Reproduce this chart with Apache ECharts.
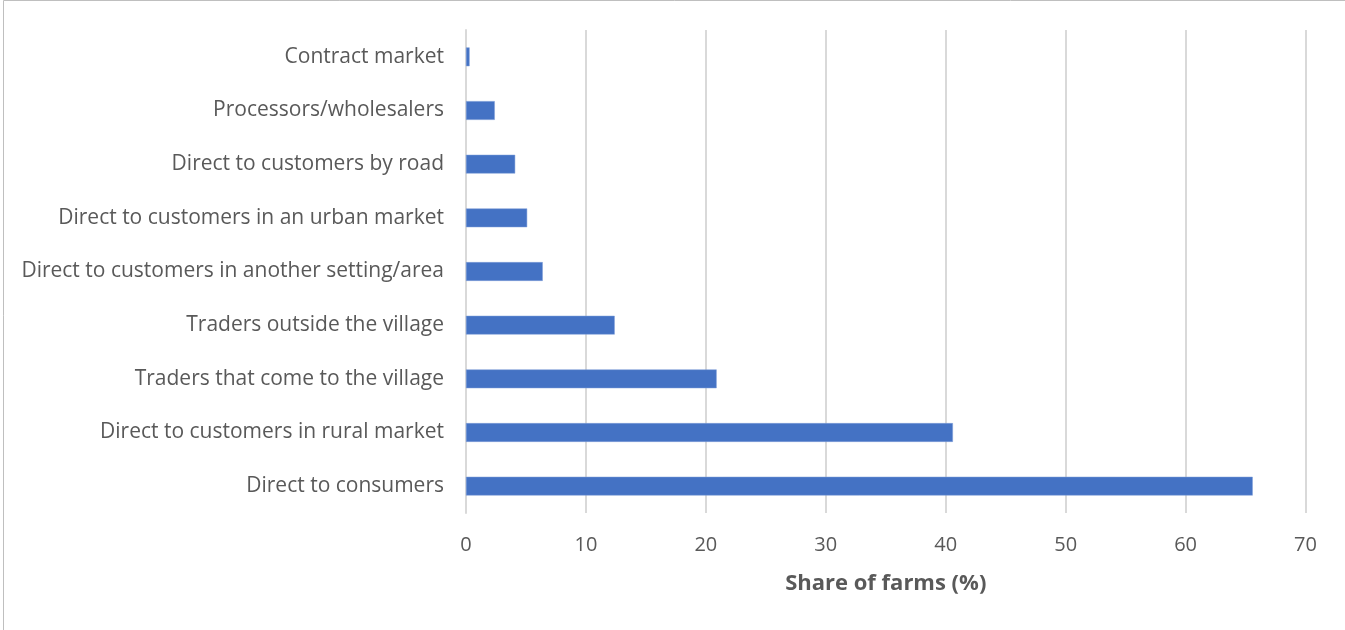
<!DOCTYPE html>
<html>
<head>
<meta charset="utf-8">
<script src="https://cdn.jsdelivr.net/npm/echarts@6/dist/echarts.min.js"></script>
<style>
  html, body { margin: 0; padding: 0; background: #ffffff; }
  #chart { width: 1345px; height: 630px; }
</style>
</head>
<body>
<div id="chart"></div>
<script>
// Marketing channels, listed bottom-to-top as drawn on the category axis
const channels = [
  'Direct to consumers',
  'Direct to customers in rural market',
  'Traders that come to the village',
  'Traders outside the village',
  'Direct to customers in another setting/area',
  'Direct to customers in an urban market',
  'Direct to customers by road',
  'Processors/wholesalers',
  'Contract market'
];

// Share of farms using each channel (%)
const shareOfFarms = [65.6, 40.6, 20.9, 12.4, 6.4, 5.1, 4.1, 2.4, 0.3];

const axisName = 'Share of farms (%)';

const textColor = '#595959';
const fontFamily = '"Open Sans", Lato, sans-serif';

const chart = echarts.init(document.getElementById('chart'), null, { renderer: 'canvas' });

chart.setOption({
  backgroundColor: '#ffffff',
  animation: false,
  graphic: [{
    type: 'rect',
    shape: { x: 3.5, y: 0.5, width: 1400, height: 700 },
    style: { fill: 'none', stroke: '#bfbfbf', lineWidth: 1 },
    silent: true
  }],
  grid: { left: 466, right: 39.5, top: 30, bottom: 117, containLabel: false },
  xAxis: {
    type: 'value',
    min: 0,
    max: 70,
    interval: 10,
    name: axisName,
    nameLocation: 'middle',
    nameGap: 60,
    nameTextStyle: { color: textColor, fontSize: 22, fontWeight: 'bold', fontFamily },
    axisLine: { show: false },
    axisTick: { show: false },
    axisLabel: { color: textColor, fontSize: 20, margin: 22, fontFamily },
    splitLine: { show: true, lineStyle: { color: '#d9d9d9', width: 2 } }
  },
  yAxis: {
    type: 'category',
    data: channels,
    axisLine: { show: true, lineStyle: { color: '#d9d9d9', width: 2 } },
    axisTick: { show: false },
    axisLabel: { color: textColor, fontSize: 21, margin: 22, padding: [3, 0, 0, 0], fontFamily }
  },
  series: [{
    type: 'bar',
    data: shareOfFarms,
    barWidth: '35%',
    itemStyle: { color: '#4472c4', borderColor: '#7f9fd8', borderWidth: 0.5 }
  }]
});
</script>
</body>
</html>
